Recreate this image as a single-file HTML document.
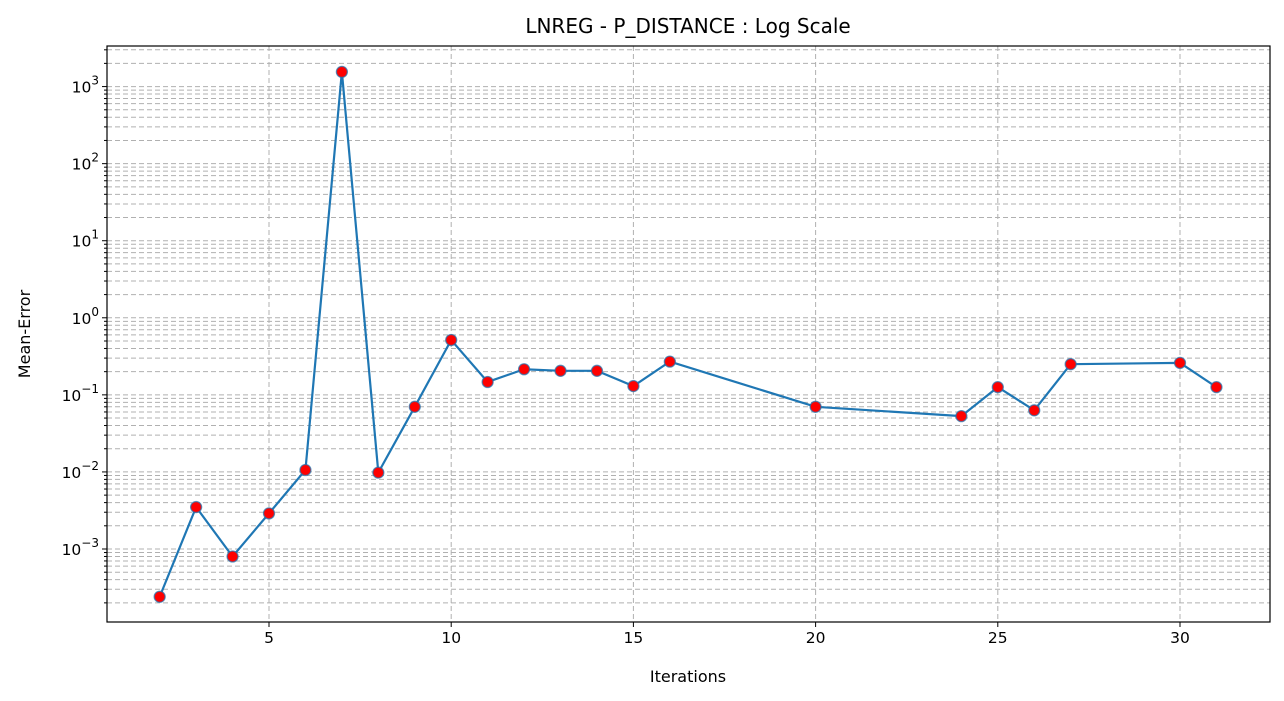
<!DOCTYPE html>
<html><head><meta charset="utf-8"><style>
body{margin:0;background:#fff;}
svg{display:block;font-family:"DejaVu Sans","Liberation Sans",sans-serif;}
</style></head><body>
<svg id="chart" width="1284" height="701" xmlns="http://www.w3.org/2000/svg">
<rect width="1284" height="701" fill="#fff"/>
<text x="688" y="33" font-size="20" text-anchor="middle" fill="#000">LNREG - P_DISTANCE : Log Scale</text>
<g id="grid"></g>
<g id="axes"></g>
<g id="series"></g>
<rect x="107" y="46" width="1163" height="576" fill="none" stroke="#000" stroke-width="1.2"/>
<text x="688" y="682" font-size="16" text-anchor="middle">Iterations</text>
<text transform="translate(30,334) rotate(-90)" font-size="16" text-anchor="middle">Mean-Error</text>
</svg>
<script>
const iterations=[2,3,4,5,6,7,8,9,10,11,12,13,14,15,16,20,24,25,26,27,30,31];
const meanError=[0.00024,0.0035,0.0008,0.0029,0.0106,1550,0.0098,0.07,0.515,0.147,0.215,0.205,0.205,0.13,0.27,0.07,0.053,0.126,0.063,0.25,0.26,0.126];
const xTicks=[5,10,15,20,25,30];
const yTickExps=[-3,-2,-1,0,1,2,3];
const NS="http://www.w3.org/2000/svg";
const L=107,R=1270,T=46,B=622;
function xs(v){return 269+(v-5)*36.44;}
function ys(v){return 549-(Math.log10(v)+3)*77.07;}
function mk(tag,attrs,parent){const e=document.createElementNS(NS,tag);for(const k in attrs)e.setAttribute(k,attrs[k]);parent.appendChild(e);return e;}
const grid=document.getElementById('grid'),axes=document.getElementById('axes'),series=document.getElementById('series');
for(let e=-4;e<=3;e++){for(let m=1;m<=9;m++){const v=m*Math.pow(10,e);const y=ys(v);if(y<T||y>B)continue;
const g=mk('line',{x1:L,x2:R,y1:y,y2:y,stroke:'#b0b0b0','stroke-width':1,'stroke-dasharray':'5,3'},grid);

const t=mk('line',{x1:L-(m==1?5:3),x2:L,y1:y,y2:y,stroke:'#000','stroke-width':1},axes);
}}
xTicks.forEach(v=>{const x=xs(v);
const g=mk('line',{x1:x,x2:x,y1:T,y2:B,stroke:'#b0b0b0','stroke-width':1,'stroke-dasharray':'5,3'},grid);

const t=mk('line',{x1:x,x2:x,y1:B,y2:B+5,stroke:'#000'},axes);

const l=mk('text',{x:x,y:B+21,'font-size':15.5,'text-anchor':'middle'},axes);l.textContent=v;
});
yTickExps.forEach(e=>{const y=ys(Math.pow(10,e));
const l=mk('text',{x:L-8,y:y+6,'font-size':15.5,'text-anchor':'end'},axes);

const a=mk('tspan',{},l);a.textContent='10';const b=mk('tspan',{dy:-8,'font-size':12},l);b.textContent=e<0?'\u2212'+(-e):String(e);});
const pts=iterations.map((v,i)=>xs(v)+','+ys(meanError[i])).join(' ');
const pl=mk('polyline',{points:pts,fill:'none',stroke:'#1f77b4','stroke-width':2.2},series);

iterations.forEach((v,i)=>{const c=mk('circle',{cx:xs(v),cy:ys(meanError[i]),r:5.5,fill:'#ff0000',stroke:'#1f77b4','stroke-width':1.3,'stroke-opacity':0.7},series);
});
</script>
</body></html>
